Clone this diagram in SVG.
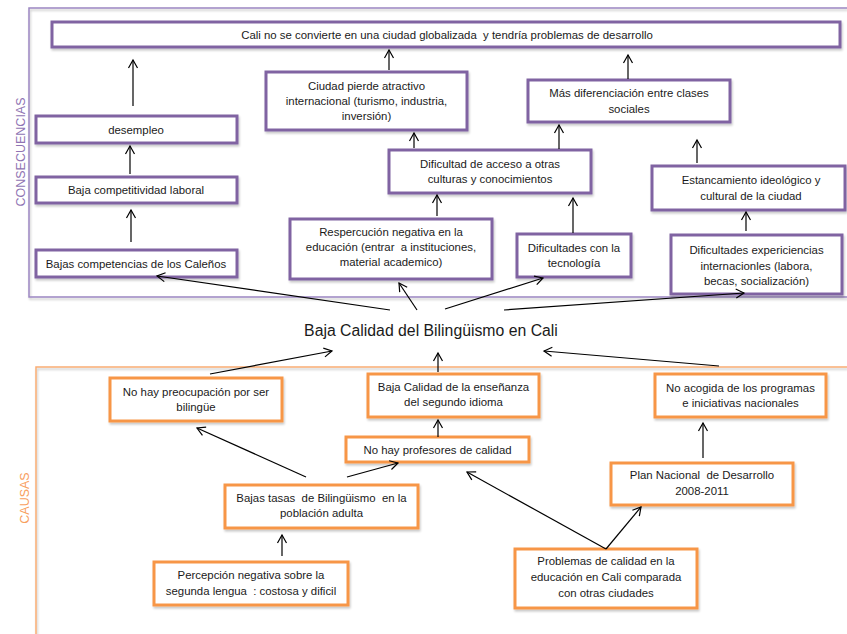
<svg xmlns="http://www.w3.org/2000/svg" width="847" height="634" viewBox="0 0 847 634">
<defs>
<style>
.p{fill:#fff;stroke:#8064A2;stroke-width:3;filter:url(#sh)}
.o{fill:#fff;stroke:#F79646;stroke-width:3;filter:url(#sh)}
text{font-family:"Liberation Sans",Arial,sans-serif;font-size:11.4px;fill:#1a1a1a;text-anchor:middle}
.c line{stroke:#000;stroke-width:1.2;marker-end:url(#ah)}
.frm{fill:none;stroke-width:1.5;filter:url(#sh)}
</style>
<filter id="sh" x="-10%" y="-20%" width="130%" height="160%">
<feDropShadow dx="1" dy="2" stdDeviation="1.2" flood-color="#000" flood-opacity="0.22"/>
</filter>
<marker id="ah" viewBox="-10 -6 12 12" refX="0" refY="0" markerWidth="12" markerHeight="12" markerUnits="userSpaceOnUse" orient="auto">
<path d="M-8,-4.5 L0,0 L-8,4.5" fill="none" stroke="#000" stroke-width="1.2"/>
</marker>
</defs>
<rect width="847" height="634" fill="#fff"/>

<g id="frames">
<path class="frm" d="M847,8 H29 V297 H847" stroke="#9c87c2"/>
<path class="frm" d="M847,367 H36 V634" stroke="#f9ad74"/>
<text transform="translate(25,152) rotate(-90)" style="font-size:12.5px;fill:#8f74b3">CONSECUENCIAS</text>
<text transform="translate(29,498) rotate(-90)" style="font-size:12.5px;fill:#f8a060">CAUSAS</text>
</g>

<g id="n-top"><rect class="p" x="52" y="22" width="788" height="25"/><text x="447" y="38.5" xml:space="preserve">Cali no se convierte en una ciudad globalizada  y tendría problemas de desarrollo</text></g>
<g id="n-desempleo"><rect class="p" x="36" y="116" width="201" height="27"/><text x="136" y="133.5">desempleo</text></g>
<g id="n-competitividad"><rect class="p" x="36" y="177" width="201" height="26"/><text x="136" y="194">Baja competitividad laboral</text></g>
<g id="n-competencias"><rect class="p" x="36" y="250" width="201" height="27"/><text x="136" y="267.5">Bajas competencias de los Caleños</text></g>
<g id="n-atractivo"><rect class="p" x="266" y="72" width="201" height="58"/><text x="366.5" y="90">Ciudad pierde atractivo</text><text x="366.5" y="105">internacional (turismo, industria,</text><text x="366.5" y="120">inversión)</text></g>
<g id="n-clases"><rect class="p" x="528" y="80" width="202" height="42"/><text x="629" y="97">Más diferenciación entre clases</text><text x="629" y="112.5">sociales</text></g>
<g id="n-acceso"><rect class="p" x="389" y="150" width="202" height="43"/><text x="490" y="167.5">Dificultad de acceso a otras</text><text x="490" y="182.5">culturas y conocimientos</text></g>
<g id="n-estancamiento"><rect class="p" x="652" y="166" width="193" height="44"/><text x="751" y="184">Estancamiento ideológico y</text><text x="751" y="199.5">cultural de la ciudad</text></g>
<g id="n-repercusion"><rect class="p" x="290" y="219" width="202" height="60"/><text x="391" y="236">Respercución negativa en la</text><text x="391" y="251" xml:space="preserve">educación (entrar  a instituciones,</text><text x="391" y="266">material academico)</text></g>
<g id="n-tecnologia"><rect class="p" x="517" y="234" width="114" height="43"/><text x="574" y="252">Dificultades con la</text><text x="574" y="267">tecnología</text></g>
<g id="n-experiencias"><rect class="p" x="671" y="235" width="171" height="59"/><text x="756.5" y="254">Dificultades expericiencias</text><text x="756.5" y="269.5">internacionles (labora,</text><text x="756.5" y="285">becas, socialización)</text></g>

<g id="n-central"><text x="431" y="336" style="font-size:15.8px">Baja Calidad del Bilingüismo en Cali</text></g>

<g id="n-preocupacion"><rect class="o" x="110" y="378" width="172" height="43"/><text x="196" y="396">No hay preocupación por ser</text><text x="196" y="411">bilingüe</text></g>
<g id="n-ensenanza"><rect class="o" x="368" y="374" width="171" height="43"/><text x="453.5" y="390.5">Baja Calidad de la enseñanza</text><text x="453.5" y="406">del segundo idioma</text></g>
<g id="n-acogida"><rect class="o" x="655" y="374" width="171" height="43"/><text x="740.5" y="392">No acogida de los programas</text><text x="740.5" y="407">e iniciativas nacionales</text></g>
<g id="n-profesores"><rect class="o" x="346" y="437" width="183" height="25"/><text x="437.5" y="454">No hay profesores de calidad</text></g>
<g id="n-tasas"><rect class="o" x="225" y="485" width="193" height="43"/><text x="321.5" y="502" xml:space="preserve">Bajas tasas  de Bilingüismo  en la</text><text x="321.5" y="517">población adulta</text></g>
<g id="n-plan"><rect class="o" x="611" y="463" width="182" height="42"/><text x="702" y="479" xml:space="preserve">Plan Nacional  de Desarrollo</text><text x="702" y="494.5">2008-2011</text></g>
<g id="n-percepcion"><rect class="o" x="154" y="562" width="194" height="43"/><text x="251" y="579">Percepción negativa sobre la</text><text x="251" y="595" xml:space="preserve">segunda lengua  : costosa y dificil</text></g>
<g id="n-problemas"><rect class="o" x="515" y="549" width="182" height="59"/><text x="606" y="565">Problemas de calidad en la</text><text x="606" y="581">educación en Cali comparada</text><text x="606" y="597">con otras ciudades</text></g>

<g id="connectors" class="c">
<line x1="133" y1="106" x2="133" y2="60"/>
<line x1="130" y1="174" x2="130" y2="146"/>
<line x1="131" y1="242" x2="131" y2="210"/>
<line x1="389" y1="70" x2="389" y2="50"/>
<line x1="414" y1="148" x2="414" y2="133"/>
<line x1="628" y1="79" x2="628" y2="55"/>
<line x1="559" y1="149" x2="559" y2="125"/>
<line x1="573" y1="233" x2="573" y2="198"/>
<line x1="437" y1="216" x2="437" y2="195"/>
<line x1="697" y1="163" x2="697" y2="140"/>
<line x1="746" y1="231" x2="746" y2="212"/>
<line x1="390" y1="310" x2="157" y2="276"/>
<line x1="417" y1="310" x2="399" y2="283"/>
<line x1="445" y1="309" x2="543" y2="278"/>
<line x1="504" y1="310" x2="744" y2="293"/>
<line x1="210" y1="374" x2="332" y2="351"/>
<line x1="438" y1="372" x2="438" y2="353"/>
<line x1="719" y1="366" x2="544" y2="351"/>
<line x1="306" y1="477" x2="197" y2="428"/>
<line x1="347" y1="477" x2="398" y2="463"/>
<line x1="438" y1="437" x2="438" y2="420"/>
<line x1="282" y1="556" x2="282" y2="535"/>
<line x1="606" y1="549" x2="467" y2="472"/>
<line x1="606" y1="549" x2="641" y2="507"/>
<line x1="703" y1="458" x2="703" y2="423"/>
</g>
</svg>
